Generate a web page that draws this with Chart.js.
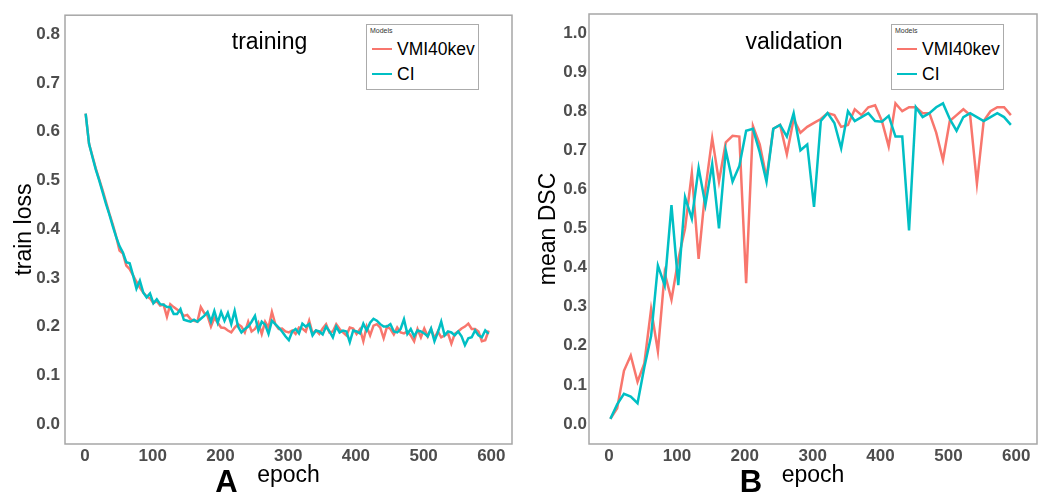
<!DOCTYPE html>
<html>
<head>
<meta charset="utf-8">
<script src="https://cdn.jsdelivr.net/npm/chart.js@4.4.1/dist/chart.umd.min.js"></script>
<style>
  html, body { margin: 0; padding: 0; background: #fff; }
  #wrap { position: relative; width: 1049px; height: 494px; overflow: hidden; font-family: "Liberation Sans", Arial, sans-serif; }
  .panel { position: absolute; top: 0; }
  .legend { position: absolute; top: 24px; width: 111px; height: 64px; border: 1px solid #ababab; background: #fff; }
  .legend .ttl { position: absolute; left: 3px; top: 2px; font-size: 7px; color: #333; }
  .legend .row { position: absolute; left: 5px; height: 20px; display: flex; align-items: center; font-size: 17.5px; color: #000; white-space: nowrap; }
  .legend .sw { width: 20px; height: 2.5px; margin-right: 5px; }
</style>
</head>
<body>
<div id="wrap">
  <canvas id="trainCanvas" class="panel" width="525" height="494" style="left:0"></canvas>
  <canvas id="valCanvas" class="panel" width="524" height="494" style="left:525px"></canvas>
  <div class="legend" id="legTrain" style="left:366px"></div>
  <div class="legend" id="legVal" style="left:891px"></div>
</div>
<script>
// series names + colours (ggplot defaults)
const seriesNames = ['VMI40kev', 'CI'];
const seriesColors = ['#F8766D', '#00BFC4'];
const legendTitle = 'Models';

const xTicks = [0, 100, 200, 300, 400, 500, 600];
const lossTicks = [0.0, 0.1, 0.2, 0.3, 0.4, 0.5, 0.6, 0.7, 0.8];
const dscTicks = [0.0, 0.1, 0.2, 0.3, 0.4, 0.5, 0.6, 0.7, 0.8, 0.9, 1.0];

// training (every 5 epochs)
const trainEpochs = [
  1, 6, 11, 16, 21, 26, 31, 36, 41, 46, 51, 56, 61, 66, 71, 76, 81, 86, 91, 96,
  101, 106, 111, 116, 121, 126, 131, 136, 141, 146, 151, 156, 161, 166, 171, 176, 181, 186, 191, 196,
  201, 206, 211, 216, 221, 226, 231, 236, 241, 246, 251, 256, 261, 266, 271, 276, 281, 286, 291, 296,
  301, 306, 311, 316, 321, 326, 331, 336, 341, 346, 351, 356, 361, 366, 371, 376, 381, 386, 391, 396,
  401, 406, 411, 416, 421, 426, 431, 436, 441, 446, 451, 456, 461, 466, 471, 476, 481, 486, 491, 496,
  501, 506, 511, 516, 521, 526, 531, 536, 541, 546, 551, 556, 561, 566, 571, 576, 581, 586, 591, 596
];
const trainLossVMI = [
  0.637, 0.575, 0.550, 0.524, 0.502, 0.480, 0.456, 0.432, 0.410, 0.385, 0.356, 0.350, 0.325, 0.318, 0.305, 0.292, 0.280, 0.270, 0.262, 0.258,
  0.248, 0.252, 0.243, 0.245, 0.220, 0.246, 0.240, 0.235, 0.230, 0.222, 0.224, 0.215, 0.212, 0.210, 0.240, 0.228, 0.222, 0.200, 0.218, 0.208,
  0.198, 0.197, 0.192, 0.188, 0.198, 0.205, 0.200, 0.188, 0.210, 0.190, 0.195, 0.208, 0.185, 0.210, 0.198, 0.230, 0.205, 0.195, 0.196, 0.190,
  0.188, 0.192, 0.185, 0.198, 0.196, 0.190, 0.212, 0.186, 0.192, 0.185, 0.196, 0.205, 0.188, 0.190, 0.205, 0.195, 0.188, 0.182, 0.198, 0.196,
  0.185, 0.195, 0.170, 0.200, 0.182, 0.202, 0.205, 0.198, 0.176, 0.200, 0.195, 0.184, 0.198, 0.188, 0.186, 0.190, 0.182, 0.170, 0.195, 0.178,
  0.196, 0.180, 0.195, 0.176, 0.190, 0.178, 0.182, 0.186, 0.165, 0.185, 0.190, 0.196, 0.200, 0.206, 0.195, 0.195, 0.190, 0.170, 0.172, 0.192
];
const trainLossCI = [
  0.637, 0.575, 0.548, 0.522, 0.500, 0.476, 0.452, 0.430, 0.406, 0.384, 0.365, 0.352, 0.332, 0.330, 0.305, 0.278, 0.294, 0.270, 0.260, 0.268,
  0.248, 0.256, 0.246, 0.245, 0.240, 0.240, 0.226, 0.226, 0.236, 0.214, 0.212, 0.210, 0.214, 0.210, 0.216, 0.222, 0.230, 0.210, 0.232, 0.208,
  0.230, 0.212, 0.228, 0.205, 0.232, 0.200, 0.188, 0.195, 0.200, 0.210, 0.222, 0.192, 0.210, 0.204, 0.185, 0.212, 0.205, 0.198, 0.190, 0.180,
  0.172, 0.190, 0.195, 0.186, 0.206, 0.200, 0.205, 0.182, 0.192, 0.190, 0.184, 0.200, 0.190, 0.178, 0.200, 0.188, 0.192, 0.190, 0.168, 0.192,
  0.190, 0.186, 0.206, 0.192, 0.208, 0.216, 0.212, 0.205, 0.200, 0.200, 0.205, 0.190, 0.188, 0.195, 0.215, 0.185, 0.195, 0.180, 0.192, 0.190,
  0.186, 0.180, 0.196, 0.170, 0.188, 0.210, 0.182, 0.190, 0.188, 0.182, 0.190, 0.180, 0.162, 0.176, 0.178, 0.192, 0.182, 0.178, 0.192, 0.185
];

// validation (every 10 epochs)
const valEpochs = [
  2, 12, 22, 32, 42, 52, 62, 72, 82, 92, 102, 112, 122, 132, 142, 152, 162, 172, 182, 192,
  202, 212, 222, 232, 242, 252, 262, 272, 282, 292, 302, 312, 322, 332, 342, 352, 362, 372, 382, 392,
  402, 412, 422, 432, 442, 452, 462, 472, 482, 492, 502, 512, 522, 532, 542, 552, 562, 572, 582, 592
];
const valDscVMI = [
  0.013, 0.040, 0.136, 0.175, 0.108, 0.155, 0.294, 0.186, 0.386, 0.318, 0.420, 0.500, 0.642, 0.422, 0.600, 0.731, 0.620, 0.720, 0.737, 0.735,
  0.360, 0.762, 0.715, 0.630, 0.755, 0.765, 0.690, 0.780, 0.745, 0.760, 0.770, 0.780, 0.795, 0.790, 0.760, 0.765, 0.805, 0.790, 0.810, 0.815,
  0.775, 0.710, 0.820, 0.800, 0.810, 0.810, 0.795, 0.795, 0.745, 0.675, 0.775, 0.790, 0.805, 0.790, 0.615, 0.775, 0.800, 0.810, 0.810, 0.790
];
const valDscCI = [
  0.013, 0.050, 0.077, 0.070, 0.053, 0.145, 0.225, 0.405, 0.355, 0.560, 0.355, 0.580, 0.525, 0.655, 0.560, 0.665, 0.500, 0.700, 0.620, 0.660,
  0.750, 0.755, 0.695, 0.620, 0.755, 0.765, 0.735, 0.795, 0.700, 0.715, 0.555, 0.775, 0.795, 0.770, 0.705, 0.800, 0.775, 0.785, 0.795, 0.775,
  0.773, 0.788, 0.735, 0.735, 0.495, 0.810, 0.785, 0.795, 0.810, 0.820, 0.780, 0.750, 0.785, 0.795, 0.785, 0.775, 0.785, 0.795, 0.785, 0.765
];

function pts(xs, ys) {
  return xs.map((x, i) => ({ x: x, y: ys[i] }));
}

// grey frame round the plotting panel + in-panel title + panel letter
const panelDeco = {
  id: 'panelDeco',
  afterDraw(chart, args, opts) {
    const a = chart.chartArea;
    const ctx = chart.ctx;
    ctx.save();
    ctx.strokeStyle = '#a6a6a6';
    ctx.lineWidth = 1.5;
    ctx.strokeRect(a.left, a.top, a.right - a.left, a.bottom - a.top);
    const cx = (a.left + a.right) / 2;
    ctx.fillStyle = '#000';
    ctx.textAlign = 'center';
    ctx.textBaseline = 'alphabetic';
    ctx.font = '23px "Liberation Sans", Arial, sans-serif';
    ctx.fillText(opts.title, cx - 19, 49);
    ctx.font = 'bold 31px "Liberation Sans", Arial, sans-serif';
    ctx.fillText(opts.letter, cx - 62, 492);
    ctx.restore();
  }
};

function makePanel(canvasId, cfg) {
  const tickFont = { family: '"Liberation Sans", Arial, sans-serif', size: 17, weight: 'bold' };
  const titleFont = { family: '"Liberation Sans", Arial, sans-serif', size: 23 };
  return new Chart(document.getElementById(canvasId), {
    type: 'line',
    data: {
      datasets: [
        { label: seriesNames[0], data: pts(cfg.xs, cfg.a), borderColor: seriesColors[0], borderWidth: 2.5, pointRadius: 0, tension: 0, order: 1 },
        { label: seriesNames[1], data: pts(cfg.xs, cfg.b), borderColor: seriesColors[1], borderWidth: 2.5, pointRadius: 0, tension: 0, order: 0 }
      ]
    },
    options: {
      responsive: false,
      animation: false,
      layout: { padding: { top: 14, right: cfg.padRight, bottom: 0, left: 0 } },
      plugins: {
        legend: { display: false },
        tooltip: { enabled: false },
        panelDeco: { title: cfg.title, letter: cfg.letter }
      },
      scales: {
        x: {
          type: 'linear',
          min: -29.5,
          max: 630.5,
          grid: { display: false, drawTicks: false },
          border: { display: false },
          afterBuildTicks: (s) => { s.ticks = xTicks.map(v => ({ value: v })); },
          afterFit: (s) => { s.height = 50; },
          ticks: { color: '#4d4d4d', font: tickFont, padding: 2, maxRotation: 0 },
          title: { display: true, text: 'epoch', color: '#000', font: titleFont, padding: { top: 0, bottom: 5 } }
        },
        y: {
          type: 'linear',
          min: cfg.yMin,
          max: cfg.yMax,
          grid: { display: false, drawTicks: false },
          border: { display: false },
          afterBuildTicks: (s) => { s.ticks = cfg.yTicks.map(v => ({ value: v })); },
          afterFit: (s) => { s.width = cfg.yWidth; },
          ticks: { color: '#4d4d4d', font: tickFont, padding: cfg.yPad, callback: (v) => Number(v).toFixed(1) },
          title: { display: true, text: cfg.yTitle, color: '#000', font: titleFont, padding: { top: cfg.yTitlePad, bottom: 0 } }
        }
      }
    },
    plugins: [panelDeco]
  });
}

function buildLegend(id) {
  const el = document.getElementById(id);
  let html = '<div class="ttl">' + legendTitle + '</div>';
  seriesNames.forEach((name, i) => {
    html += '<div class="row" style="top:' + (14 + i * 25) + 'px"><span class="sw" style="background:' +
      seriesColors[i] + '"></span>' + name + '</div>';
  });
  el.innerHTML = html;
}

makePanel('trainCanvas', {
  xs: trainEpochs, a: trainLossVMI, b: trainLossCI,
  yMin: -0.0409, yMax: 0.8389, yTicks: lossTicks,
  yTitle: 'train loss', yWidth: 65, yPad: 5, yTitlePad: 11, padRight: 13,
  title: 'training', letter: 'A'
});
makePanel('valCanvas', {
  xs: valEpochs, a: valDscVMI, b: valDscCI,
  yMin: -0.0512, yMax: 1.0486, yTicks: dscTicks,
  yTitle: 'mean DSC', yWidth: 64, yPad: 2, yTitlePad: 10, padRight: 12,
  title: 'validation', letter: 'B'
});
buildLegend('legTrain');
buildLegend('legVal');
</script>
</body>
</html>
